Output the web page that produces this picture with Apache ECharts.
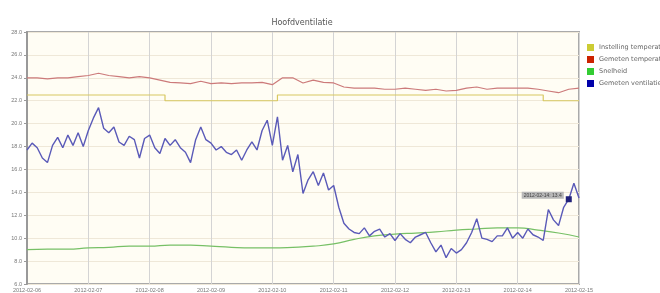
<!DOCTYPE html>
<html>
<head>
    <meta charset="utf-8">
    <title>Hoofdventilatie</title>
    <script src="https://cdn.jsdelivr.net/npm/echarts@6/dist/echarts.min.js"></script>
    <style>
        html, body {margin: 0; padding: 0; background: #fff;}
        #main {width: 660px; height: 293px;}
    </style>
</head>
<body>
<div id="main"></div>
<script type="text/javascript">
    // x-as labels (een per dag, 24 uur per interval)
    var dayLabels = ['2012-02-06', '2012-02-07', '2012-02-08', '2012-02-09', '2012-02-10',
        '2012-02-11', '2012-02-12', '2012-02-13', '2012-02-14', '2012-02-15'];
    var seriesNames = ['Instelling temperatuur', 'Gemeten temperatuur', 'Snelheid', 'Gemeten ventilatie'];

    // instelling temperatuur, elke 4 uur
    var setTemp = [22.5, 22.5, 22.5, 22.5, 22.5, 22.5, 22.5, 22.5, 22.5, 22.5, 22.5, 22.5, 22.5, 22.5,
        22.0, 22.0, 22.0, 22.0, 22.0, 22.0, 22.0, 22.0, 22.0, 22.0, 22.0,
        22.5, 22.5, 22.5, 22.5, 22.5, 22.5, 22.5, 22.5, 22.5, 22.5, 22.5, 22.5, 22.5, 22.5, 22.5,
        22.5, 22.5, 22.5, 22.5, 22.5, 22.5, 22.5, 22.5, 22.5, 22.5, 22.5,
        22.0, 22.0, 22.0, 22.0];

    // gemeten temperatuur, elke 4 uur
    var measTemp = [24.0, 24.0, 23.9, 24.0, 24.0, 24.1, 24.2, 24.4, 24.2, 24.1, 24.0, 24.1, 24.0,
        23.8, 23.6, 23.55, 23.5, 23.7, 23.5, 23.55, 23.5, 23.55, 23.55, 23.6, 23.4, 24.0, 24.0,
        23.55, 23.8, 23.6, 23.55, 23.2, 23.1, 23.1, 23.1, 23.0, 23.0, 23.1, 23.0, 22.9, 23.0,
        22.85, 22.9, 23.1, 23.2, 23.0, 23.1, 23.1, 23.1, 23.1, 23.0, 22.85, 22.7, 23.0, 23.1];

    // snelheid, elke 8 uur
    var speed = [9.0, 9.05, 9.05, 9.15, 9.2, 9.3, 9.3, 9.4, 9.4, 9.3, 9.2, 9.15, 9.15, 9.2,
        9.3, 9.5, 9.9, 10.2, 10.35, 10.45, 10.55, 10.7, 10.8, 10.9, 10.9, 10.7, 10.45, 10.1];

    // gemeten ventilatie, elke 2 uur
    var vent = [17.7, 18.3, 17.9, 17.0, 16.6, 18.1, 18.8, 17.9, 19.0, 18.1,
        19.2, 18.0, 19.4, 20.5, 21.4, 19.6, 19.2, 19.7, 18.4, 18.1,
        18.9, 18.6, 17.0, 18.7, 19.0, 17.9, 17.4, 18.7, 18.1, 18.6,
        17.9, 17.5, 16.6, 18.6, 19.7, 18.6, 18.3, 17.7, 18.0, 17.5,
        17.3, 17.7, 16.8, 17.7, 18.4, 17.7, 19.4, 20.3, 18.1, 20.6,
        16.8, 18.1, 15.8, 17.3, 13.9, 15.1, 15.8, 14.6, 15.7, 14.2,
        14.6, 12.7, 11.3, 10.8, 10.5, 10.4, 10.9, 10.2, 10.6, 10.8,
        10.1, 10.4, 9.8, 10.4, 9.9, 9.6, 10.1, 10.3, 10.5, 9.6,
        8.8, 9.4, 8.3, 9.1, 8.7, 9.0, 9.6, 10.5, 11.7, 10.0,
        9.9, 9.7, 10.2, 10.2, 10.9, 10.0, 10.5, 10.0, 10.8, 10.3,
        10.1, 9.8, 12.5, 11.6, 11.1, 12.7, 13.4, 14.8, 13.5];

    var markIndex = 106;

    function toPairs(values, stepHours) {
        return values.map(function (v, i) { return [i * stepHours, v]; });
    }

    var chartDom = document.getElementById('main');
    var myChart = echarts.init(chartDom);
    var option;

    option = {
        animation: false,
        backgroundColor: '#ffffff',
        title: {
            text: 'Hoofdventilatie',
            left: 297,
            textAlign: 'center',
            top: 14,
            textStyle: {fontSize: 8, fontWeight: 'normal', color: '#555', fontFamily: 'DejaVu Sans'}
        },
        legend: {
            orient: 'vertical',
            left: 582,
            top: 39,
            itemWidth: 7,
            itemHeight: 7,
            itemGap: 5,
            icon: 'rect',
            textStyle: {fontSize: 6.5, color: '#666', fontFamily: 'DejaVu Sans'},
            data: seriesNames
        },
        grid: {
            left: 27, right: 81, top: 32, bottom: 9,
            show: true,
            backgroundColor: '#fffdf4',
            borderColor: '#aaa',
            borderWidth: 2
        },
        xAxis: {
            type: 'value',
            min: 0,
            max: 216,
            interval: 24,
            axisLine: {show: false},
            axisTick: {show: false},
            axisLabel: {
                fontSize: 5.5,
                color: '#777',
                margin: 3,
                formatter: function (v) { return dayLabels[Math.round(v / 24)] || ''; }
            },
            splitLine: {show: true, lineStyle: {color: '#d4d4d4', width: 1}}
        },
        yAxis: {
            type: 'value',
            min: 6,
            max: 28,
            interval: 2,
            axisLine: {show: true, lineStyle: {color: '#999', width: 2}},
            axisTick: {show: true, length: 3, lineStyle: {color: '#999'}},
            axisLabel: {
                fontSize: 5.5,
                color: '#777',
                margin: 5,
                formatter: function (v) { return v.toFixed(1); }
            },
            splitLine: {show: true, lineStyle: {color: '#efe8d8', width: 1}}
        },
        series: [
            {
                name: seriesNames[0],
                type: 'line',
                step: 'middle',
                showSymbol: false,
                itemStyle: {color: '#cccc33'},
                lineStyle: {color: '#d8c860', width: 1.2},
                data: toPairs(setTemp, 4)
            },
            {
                name: seriesNames[1],
                type: 'line',
                showSymbol: false,
                itemStyle: {color: '#cc2200'},
                lineStyle: {color: '#cc7a7a', width: 1.2},
                data: toPairs(measTemp, 4)
            },
            {
                name: seriesNames[2],
                type: 'line',
                showSymbol: false,
                smooth: true,
                itemStyle: {color: '#33cc33'},
                lineStyle: {color: '#77c066', width: 1.2},
                data: toPairs(speed, 8)
            },
            {
                name: seriesNames[3],
                type: 'line',
                showSymbol: false,
                itemStyle: {color: '#0000aa'},
                lineStyle: {color: '#5a5ab8', width: 1.4},
                data: toPairs(vent, 2),
                markPoint: {
                    symbol: 'rect',
                    symbolSize: 6,
                    itemStyle: {color: '#22227a'},
                    label: {
                        show: true,
                        position: 'left',
                        distance: 2,
                        offset: [0, -4],
                        fontSize: 5,
                        color: '#444',
                        backgroundColor: '#b8b8b8',
                        padding: [1, 2],
                        formatter: function () {
                            return dayLabels[8] + ': ' + vent[markIndex].toFixed(1);
                        }
                    },
                    data: [{coord: [markIndex * 2, vent[markIndex]]}]
                }
            }
        ]
    };

    option && myChart.setOption(option);
</script>
</body>
</html>
